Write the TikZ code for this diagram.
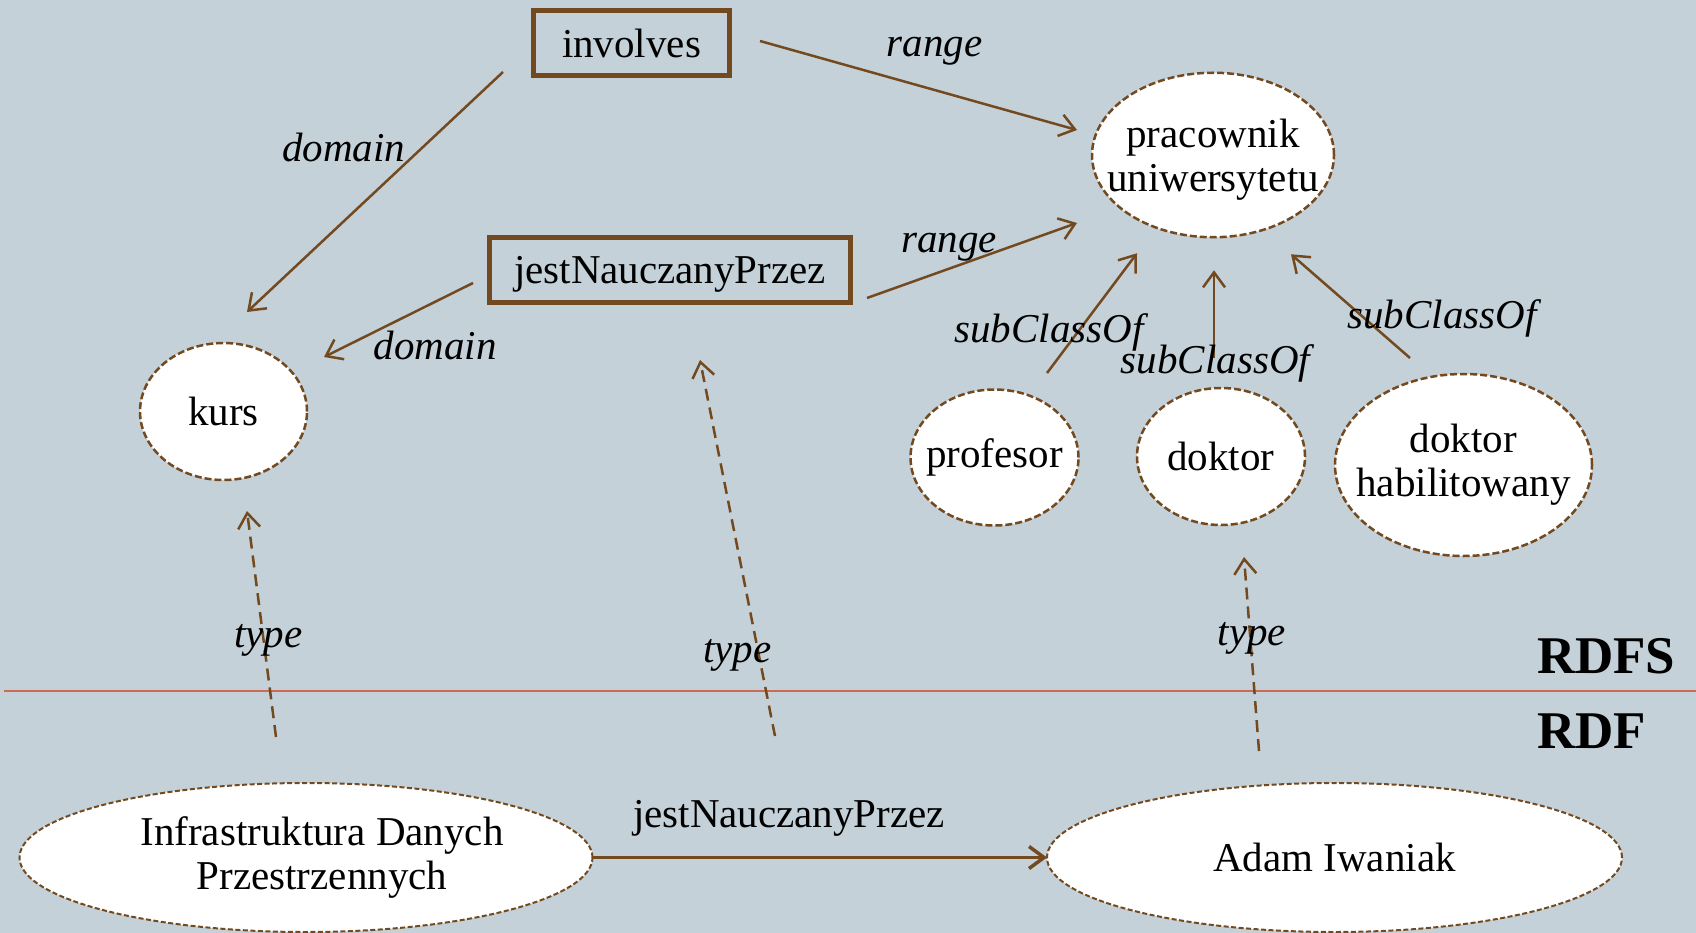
\documentclass[tikz,border=0pt]{standalone}
\usepackage{fontspec}
\setmainfont{Liberation Serif}
\usetikzlibrary{arrows.meta,shapes.geometric}

\definecolor{bgblue}{RGB}{197,209,216}
\definecolor{rdfbrown}{RGB}{115,74,32}
\definecolor{sepred}{RGB}{205,105,85}

\begin{document}
\begin{tikzpicture}[x=1pt,y=-1pt,
  every node/.style={font=\fontsize{41}{44}\selectfont, inner sep=0pt, outer sep=0pt},
  propbox/.style={rectangle, draw=rdfbrown, line width=5.5pt, text depth=0pt},
  classnode/.style={ellipse, draw=rdfbrown, fill=white, line width=2.5pt,
    dash pattern=on 7pt off 3pt, align=center, inner sep=-50pt},
  instnode/.style={classnode, line width=2pt, dash pattern=on 5pt off 2.5pt},
  rel/.style={draw=rdfbrown, line width=2.5pt, -{Straight Barb[length=15pt,width=22pt]}},
  typerel/.style={rel, dash pattern=on 12pt off 7pt},
  lab/.style={anchor=base, font=\fontsize{41}{44}\selectfont\itshape},
  layer/.style={anchor=base west, font=\fontsize{53}{60}\selectfont\bfseries},
]
\fill[bgblue] (0,0) rectangle (1696,933);
\useasboundingbox (0,0) rectangle (1696,933);

% separator between the schema and the data layer
\coordinate (sepL) at (4,691);
\coordinate (sepR) at (1696,691);
\draw[sepred, line width=2.5pt] (sepL) -- (sepR);

% properties
\node[propbox, minimum width=196pt, minimum height=65pt] (involves) at (631.5,43) {involves};
\node[propbox, minimum width=361pt, minimum height=65pt] (jnp) at (670,270) {jestNauczanyPrzez};

% classes
\node[classnode, minimum width=167pt, minimum height=137pt] (kurs) at (223.5,411.5) {kurs};
\node[classnode, minimum width=242pt, minimum height=164.5pt, text depth=0pt] (prac) at (1213,155) {pracownik\\uniwersytetu};
\node[classnode, minimum width=168pt, minimum height=136pt] (prof) at (994.5,457.5) {profesor};
\node[classnode, minimum width=168pt, minimum height=137pt] (doktor) at (1221,456.5) {doktor};
\node[classnode, minimum width=257pt, minimum height=182pt] (hab) at (1463.5,465) {doktor\\habilitowany};

% instances (the two-line name sits a little right of the ellipse centre)
\node[instnode, minimum width=573pt, minimum height=149pt] (infra) at (306,857.5)
  {\hspace*{32pt}Infrastruktura Danych\\\hspace*{32pt}Przestrzennych};
\node[instnode, minimum width=575pt, minimum height=149pt] (adam) at (1334.5,857.5) {Adam Iwaniak};
\node[anchor=base] (jnpinst) at (789,827) {jestNauczanyPrzez};

% layer names
\node[layer] (rdfs) at (1537,673) {RDFS};
\node[layer] (rdf) at (1537,748) {RDF};

% domain and range
\draw[rel] ([shift={(-30.5,-3.5)}]involves.south west) -- ([shift={(23.5,-31)}]kurs.north);
\draw[rel] ([shift={(-16.5,13)}]jnp.west) -- ([shift={(100.5,14)}]kurs.north);
\draw[rel] ([shift={(30.5,-2)}]involves.east) -- ([shift={(-15,-25)}]prac.west);
\draw[rel] ([shift={(16.5,28)}]jnp.east) -- ([shift={(-15,68)}]prac.west);
\node[lab] (dom1) at (343.5,162) {domain};
\node[lab] (dom2) at (435,359) {domain};
\node[lab] (rng1) at (934.5,57) {range};
\node[lab] (rng2) at (949,253) {range};

% subclasses
\draw[rel] ([shift={(52.5,-16.5)}]prof.north) -- ([shift={(-76,16)}]prac.south);
\draw[rel] ([shift={(-7,-30)}]doktor.north) -- ([shift={(1,33)}]prac.south);
\draw[rel] ([shift={(-53.5,-16)}]hab.north) -- ([shift={(78,17)}]prac.south);
\node[lab] (sub1) at (1049,342) {subClassOf};
\node[lab] (sub2) at (1215.5,373) {subClassOf};
\node[lab] (sub3) at (1442,328) {subClassOf};

% statement and its typing
\draw[rel, line width=3.5pt] (infra.east) -- (adam.west);
\draw[typerel] ([shift={(-30,-46)}]infra.north) -- ([shift={(23.5,31)}]kurs.south);
\draw[typerel] ([shift={(-14,-91)}]jnpinst.base) -- ([shift={(30,57.5)}]jnp.south);
\draw[typerel] ([shift={(-75.5,-32)}]adam.north) -- ([shift={(23,32)}]doktor.south);
\node[lab] (type1) at (268.5,647) {type};
\node[lab] (type2) at (737.5,662) {type};
\node[lab] (type3) at (1252,645) {type};
\end{tikzpicture}
\end{document}
